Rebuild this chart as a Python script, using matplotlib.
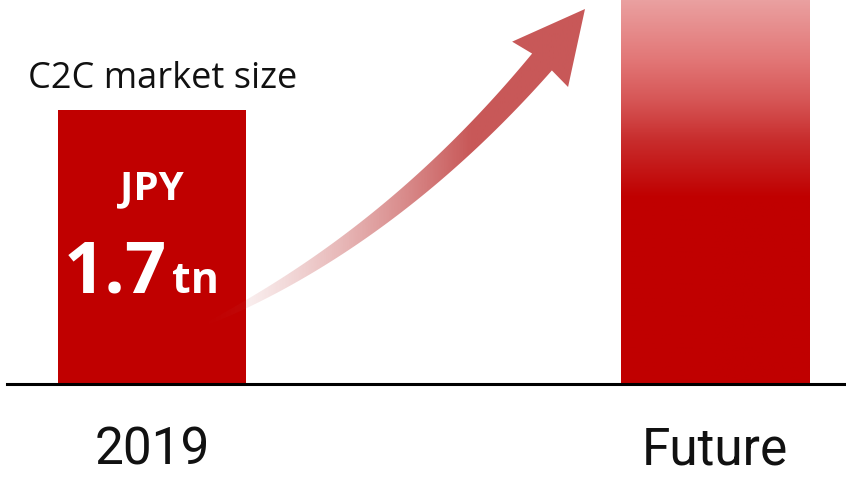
import numpy as np
import matplotlib
matplotlib.use("Agg")
import matplotlib.pyplot as plt
from matplotlib.path import Path
from matplotlib.patches import PathPatch

# data
categories = ["2019", "Future"]
values = [1.7, 3.0]          # future bar runs off the top of the picture
bar_label_top = "JPY"
bar_label_num = "1.7"
bar_label_unit = "tn"
title = "C2C market size"

RED = "#C00000"

fig = plt.figure(figsize=(8.46, 4.82), dpi=100)

# main axes: bottom sits on the baseline, top at the edge of the figure
ax = fig.add_axes([0, 98 / 482, 1, 384 / 482])
x = np.arange(len(categories))
bars = ax.bar(x, values, width=0.334, color=RED, zorder=2)
ax.set_xlim(-0.27, 1.2327)
ax.set_ylim(0, 384 / 161.2)

# gradient on the "Future" bar (light at the top, solid red lower down)
fb = bars[1]
ytop = ax.get_ylim()[1]
ys = np.linspace(0, ytop, 300)
px_from_top = (ytop - ys) * 161.2
stops_px = [0, 60, 100, 140, 197, 384]
stops_rgb = np.array([[234, 160, 160], [226, 118, 118], [214, 86, 86],
                      [200, 45, 45], [192, 0, 0], [192, 0, 0]]) / 255
img = np.zeros((len(ys), 1, 3))
for c in range(3):
    img[:, 0, c] = np.interp(px_from_top, stops_px, stops_rgb[:, c])
fb.set_facecolor("none")
im = ax.imshow(img, extent=[fb.get_x(), fb.get_x() + fb.get_width(), 0, ytop],
               origin="lower", aspect="auto", zorder=2)
im.set_clip_path(fb)

ax.axhline(0, xmin=7 / 846, xmax=1, color="black", lw=2.2, zorder=3,
           clip_on=False)
for s in ax.spines.values():
    s.set_visible(False)
ax.set_yticks([])
ax.set_xticks(x, categories)
ax.tick_params(axis="x", length=0, pad=30, labelsize=37)
for lab in ax.get_xticklabels():
    lab.set_fontfamily("Roboto")
    lab.set_color("#111111")

# labels on / above the 2019 bar
ax.text(0, 1.21, bar_label_top, ha="center", va="center", color="white",
        fontsize=29, fontweight="bold", family="Open Sans")
ax.text(0.027, 0.565, bar_label_num, ha="right", va="baseline", color="white",
        fontsize=52, fontweight="bold", family="Open Sans")
ax.text(0.036, 0.565, bar_label_unit, ha="left", va="baseline", color="white",
        fontsize=31, fontweight="bold", family="Open Sans")
ax.text(-0.22, 1.836, title, ha="left", va="baseline", color="#111111",
        fontsize=26, family="Open Sans")

# overlay in pixel coordinates for the growth arrow
ov = fig.add_axes([0, 0, 1, 1], zorder=5)
ov.set_xlim(0, 846)
ov.set_ylim(482, 0)
ov.axis("off")
ov.patch.set_alpha(0)

p0 = np.array([200.0, 327.0])
pc = np.array([390.0, 240.0])
p2 = np.array([542.0, 62.0])
tip = np.array([585.0, 9.0])
t = np.linspace(0, 1, 120)[:, None]
centre = (1 - t) ** 2 * p0 + 2 * (1 - t) * t * pc + t ** 2 * p2
deriv = 2 * (1 - t) * (pc - p0) + 2 * t * (p2 - pc)
tang = deriv / np.linalg.norm(deriv, axis=1, keepdims=True)
norm = np.column_stack([-tang[:, 1], tang[:, 0]])
half = 13 * t[:, 0] ** 0.6
left = centre + norm * half[:, None]
right = centre - norm * half[:, None]
hd = (tip - p2) / np.linalg.norm(tip - p2)
hn = np.array([-hd[1], hd[0]])
head = [p2 + hn * 36 - hd * 3, tip, p2 - hn * 36 - hd * 3]
pts = np.vstack([left, head[0:1], head[1:2], head[2:3], right[::-1], left[:1]])
codes = [Path.MOVETO] + [Path.LINETO] * (len(pts) - 2) + [Path.CLOSEPOLY]
arrow = PathPatch(Path(pts, codes), facecolor="none", edgecolor="none")
ov.add_patch(arrow)

gx = np.linspace(0, 846, 400)
alpha = np.clip((gx - 200) / 270, 0, 1) ** 1.3
grad = np.zeros((1, len(gx), 4))
grad[0, :, 0] = 200 / 255
grad[0, :, 1] = 88 / 255
grad[0, :, 2] = 88 / 255
grad[0, :, 3] = alpha
aim = ov.imshow(grad, extent=[0, 846, 482, 0], aspect="auto", zorder=5)
aim.set_clip_path(arrow)

fig.savefig("out.png", dpi=100)
